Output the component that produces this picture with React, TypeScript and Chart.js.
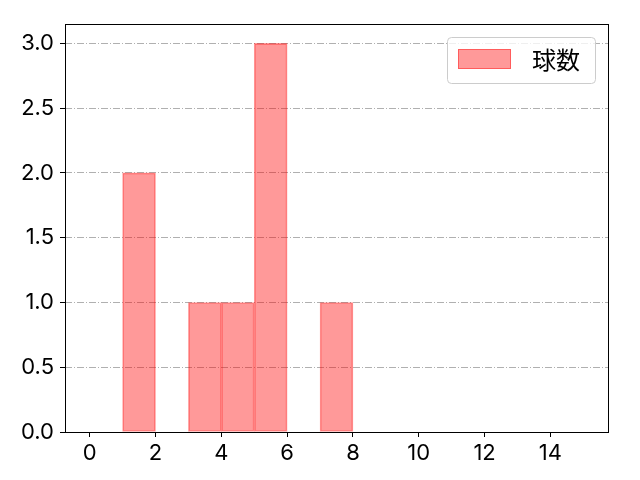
import { useEffect, useRef } from 'react';
import Chart from 'chart.js/auto';

// histogram bins (left edge) and counts
const binStarts = [0, 1, 2, 3, 4, 5, 6, 7, 8, 9, 10, 11, 12, 13, 14];
const binWidth = 1;
const counts = [0, 2, 0, 1, 1, 3, 0, 1, 0, 0, 0, 0, 0, 0, 0];
const seriesLabel = '球数';

const xTicks = [0, 2, 4, 6, 8, 10, 12, 14];
const yTicks = [0, 0.5, 1.0, 1.5, 2.0, 2.5, 3.0];

const FONT = 'Inter, "Noto Sans CJK JP", sans-serif';
const CJK_FONT = '"Noto Sans CJK JP", sans-serif';

// box around the plot + legend inside top-right
const framePlugin = {
  id: 'frame',
  afterDatasetsDraw(chart: Chart) {
    const { ctx, chartArea } = chart;
    const l = Math.round(chartArea.left) + 0.5;
    const t = Math.round(chartArea.top) + 0.5;
    const r = Math.round(chartArea.right) + 0.5;
    const b = Math.round(chartArea.bottom) + 0.5;
    ctx.save();
    ctx.strokeStyle = '#000000';
    ctx.lineWidth = 1;
    ctx.strokeRect(l, t, r - l, b - t);
    ctx.restore();
  },
  afterDraw(chart: Chart) {
    const { ctx, chartArea } = chart;
    const ds = chart.data.datasets[0] as any;
    const bw = 148;
    const bh = 46;
    const bx = chartArea.right - 13 - bw;
    const by = chartArea.top + 13;
    ctx.save();
    ctx.beginPath();
    ctx.roundRect(bx + 0.5, by + 0.5, bw, bh, 4);
    ctx.fillStyle = 'rgba(255,255,255,0.8)';
    ctx.fill();
    ctx.strokeStyle = '#cccccc';
    ctx.lineWidth = 1;
    ctx.stroke();
    ctx.fillStyle = ds.backgroundColor;
    ctx.fillRect(bx + 11, by + 12, 53, 20);
    ctx.strokeStyle = ds.borderColor;
    ctx.strokeRect(bx + 11.5, by + 12.5, 52, 19);
    ctx.fillStyle = '#000000';
    ctx.font = `24px ${CJK_FONT}`;
    ctx.textBaseline = 'middle';
    ctx.fillText(ds.label, bx + 85, by + 23);
    ctx.restore();
  },
};

export default function App() {
  const canvasRef = useRef<HTMLCanvasElement | null>(null);

  useEffect(() => {
    document.body.style.margin = '0';
    const canvas = canvasRef.current;
    if (!canvas) return;

    const chart = new Chart(canvas, {
      type: 'bar',
      data: {
        datasets: [
          {
            label: seriesLabel,
            data: binStarts.map((s, i) => ({ x: s + binWidth / 2, y: counts[i] })),
            backgroundColor: 'rgba(255, 0, 0, 0.4)',
            borderColor: 'rgba(255, 0, 0, 0.4)',
            borderWidth: 1,
            borderSkipped: false,
            barPercentage: 1,
            categoryPercentage: 1,
          },
        ],
      },
      options: {
        animation: false,
        responsive: true,
        maintainAspectRatio: false,
        layout: { padding: { left: 0, top: 24, right: 32, bottom: 0 } },
        plugins: {
          legend: { display: false },
          tooltip: { enabled: false },
        },
        scales: {
          x: {
            type: 'linear',
            offset: false,
            min: -0.75,
            max: 15.75,
            afterBuildTicks: (scale) => {
              scale.ticks = xTicks.map((v) => ({ value: v }));
            },
            afterFit: (scale) => {
              scale.height = 48;
            },
            grid: {
              offset: false,
              drawOnChartArea: false,
              drawTicks: true,
              tickLength: 5,
              tickColor: '#000000',
            },
            border: { display: false },
            ticks: {
              color: '#000000',
              padding: 3,
              maxRotation: 0,
              autoSkip: false,
              font: { family: FONT, size: 22 },
              callback: (v) => `${v}`,
            },
          },
          y: {
            type: 'linear',
            min: 0,
            max: 3.15,
            afterBuildTicks: (scale) => {
              scale.ticks = yTicks.map((v) => ({ value: v }));
            },
            afterFit: (scale) => {
              scale.width = 65;
            },
            grid: {
              color: '#b0b0b0',
              lineWidth: 1,
              drawTicks: true,
              tickLength: 5,
              tickColor: '#000000',
              tickBorderDash: [],
            },
            border: { display: false, dash: [7, 2, 1, 2] },
            ticks: {
              color: '#000000',
              padding: 6,
              autoSkip: false,
              font: { family: FONT, size: 22 },
              callback: (v) => Number(v).toFixed(1),
            },
          },
        },
      },
      plugins: [framePlugin],
    });

    return () => chart.destroy();
  }, []);

  return (
    <div style={{ position: 'relative', width: 640, height: 480 }}>
      <canvas ref={canvasRef} />
    </div>
  );
}
